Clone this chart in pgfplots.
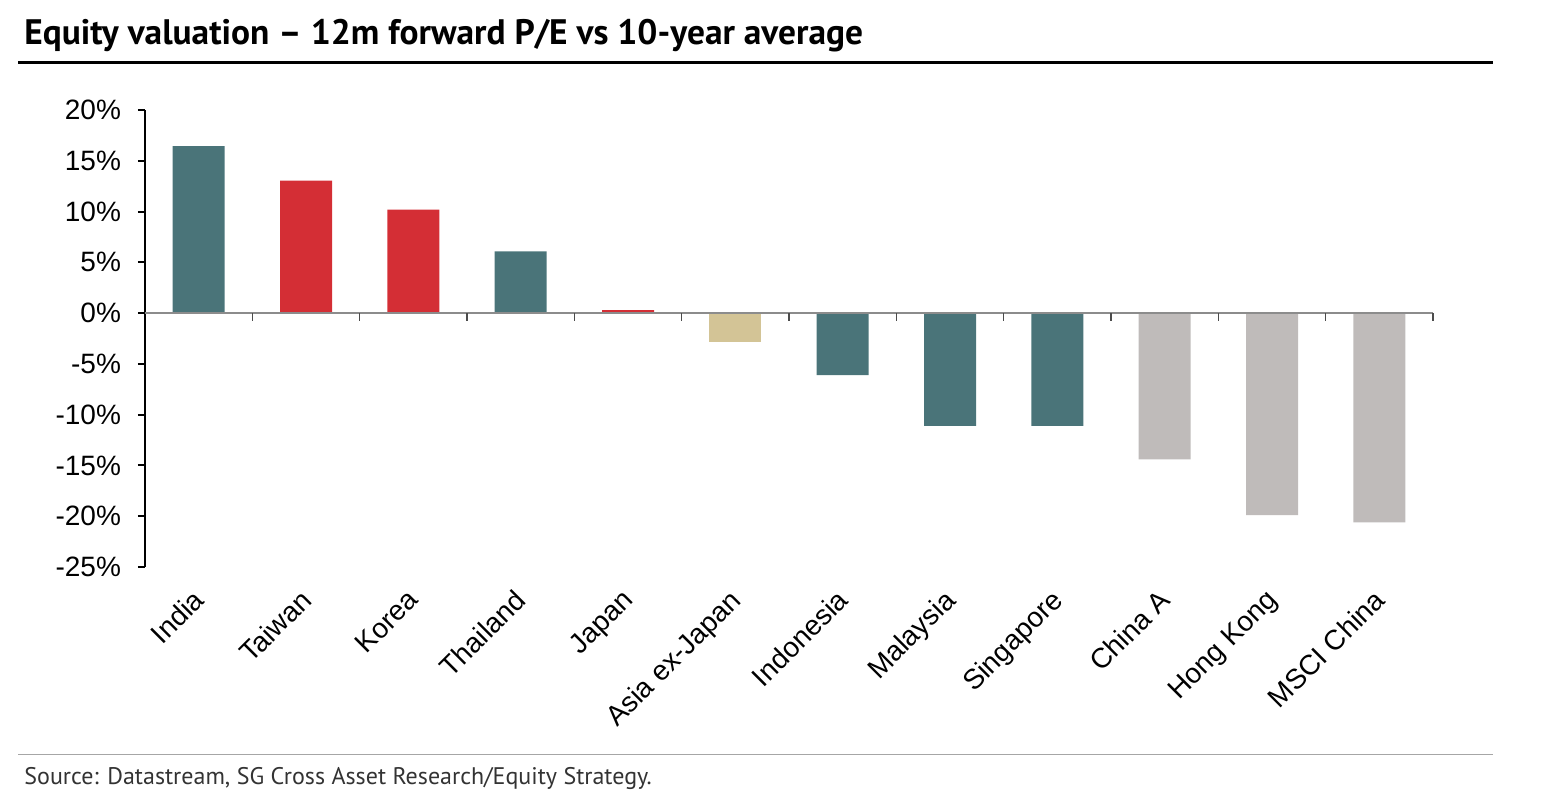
\documentclass[border=0pt]{standalone}
\usepackage{fontspec}
\setmainfont{Liberation Sans}
\newfontfamily\titlefont{PT Sans}
\usepackage{pgfplots}
\pgfplotsset{compat=1.18}
\definecolor{teal1}{HTML}{4A7479}
\definecolor{red1}{HTML}{D42E35}
\definecolor{tan1}{HTML}{D3C496}
\definecolor{grey1}{HTML}{BFBBBA}
\definecolor{zeroline}{HTML}{8C8C8C}
\begin{document}
\begin{tikzpicture}
\path[use as bounding box] (0,0) rectangle (771pt,396pt);
% title
\node[anchor=base west, inner sep=0pt] at (12pt,373.5pt) {\titlefont\bfseries\fontsize{17.7}{20}\selectfont Equity valuation – 12m forward P/E vs 10-year average};
\draw[line width=1.5pt] (9pt,364.75pt) -- (746.5pt,364.75pt);
\draw[line width=0.5pt, color=gray!70] (9pt,18.5pt) -- (746.5pt,18.5pt);
\node[anchor=base west, inner sep=0pt, text=black!80] at (12pt,3.5pt) {\titlefont\fontsize{12}{14}\selectfont Source: Datastream, SG Cross Asset Research/Equity Strategy.};
\begin{axis}[
  at={(72.5pt,112.5pt)}, anchor=south west,
  scale only axis, width=644pt, height=228.5pt,
  xmin=-0.5, xmax=11.5, ymin=-25, ymax=20,
  axis y line*=left, axis x line*=bottom,
  x axis line style={draw=none},
  y axis line style={line width=1pt, black},
  ytick={-25,-20,-15,-10,-5,0,5,10,15,20},
  yticklabels={-25\%,-20\%,-15\%,-10\%,-5\%,0\%,5\%,10\%,15\%,20\%},
  ytick style={line width=1pt, black},
  tick align=outside,
  major tick length=3.5pt,
  xtick={0,1,2,3,4,5,6,7,8,9,10,11},
  xticklabels={India,Taiwan,Korea,Thailand,Japan,Asia ex-Japan,Indonesia,Malaysia,Singapore,China A,Hong Kong,MSCI China},
  xtick style={draw=none},
  xticklabel style={rotate=45, anchor=north east, inner sep=0pt, yshift=-2.2pt, xshift=-7.3pt},
  tick label style={font=\fontsize{14}{16}\selectfont},
  yticklabel style={xshift=-5pt},
  ybar, bar width=26pt, bar shift=0pt,
  clip=false,
]
\addplot[fill=teal1, draw=none] coordinates {(0,16.44) (3,6.08) (6,-6.1) (7,-11.1) (8,-11.1)};
\addplot[fill=red1, draw=none] coordinates {(1,13.05) (2,10.2) (4,0.3)};
\addplot[fill=tan1, draw=none] coordinates {(5,-2.8)};
\addplot[fill=grey1, draw=none] coordinates {(9,-14.4) (10,-19.9) (11,-20.6)};
\draw[zeroline, line width=0.8pt] (axis cs:-0.5,0) -- (axis cs:11.5,0);
\pgfplotsinvokeforeach{0.5,1.5,2.5,3.5,4.5,5.5,6.5,7.5,8.5,9.5,10.5,11.5}{
  \draw[black!70, line width=0.6pt] (axis cs:#1,0) -- ++(0pt,-4pt);
}
\end{axis}
\end{tikzpicture}
\end{document}
